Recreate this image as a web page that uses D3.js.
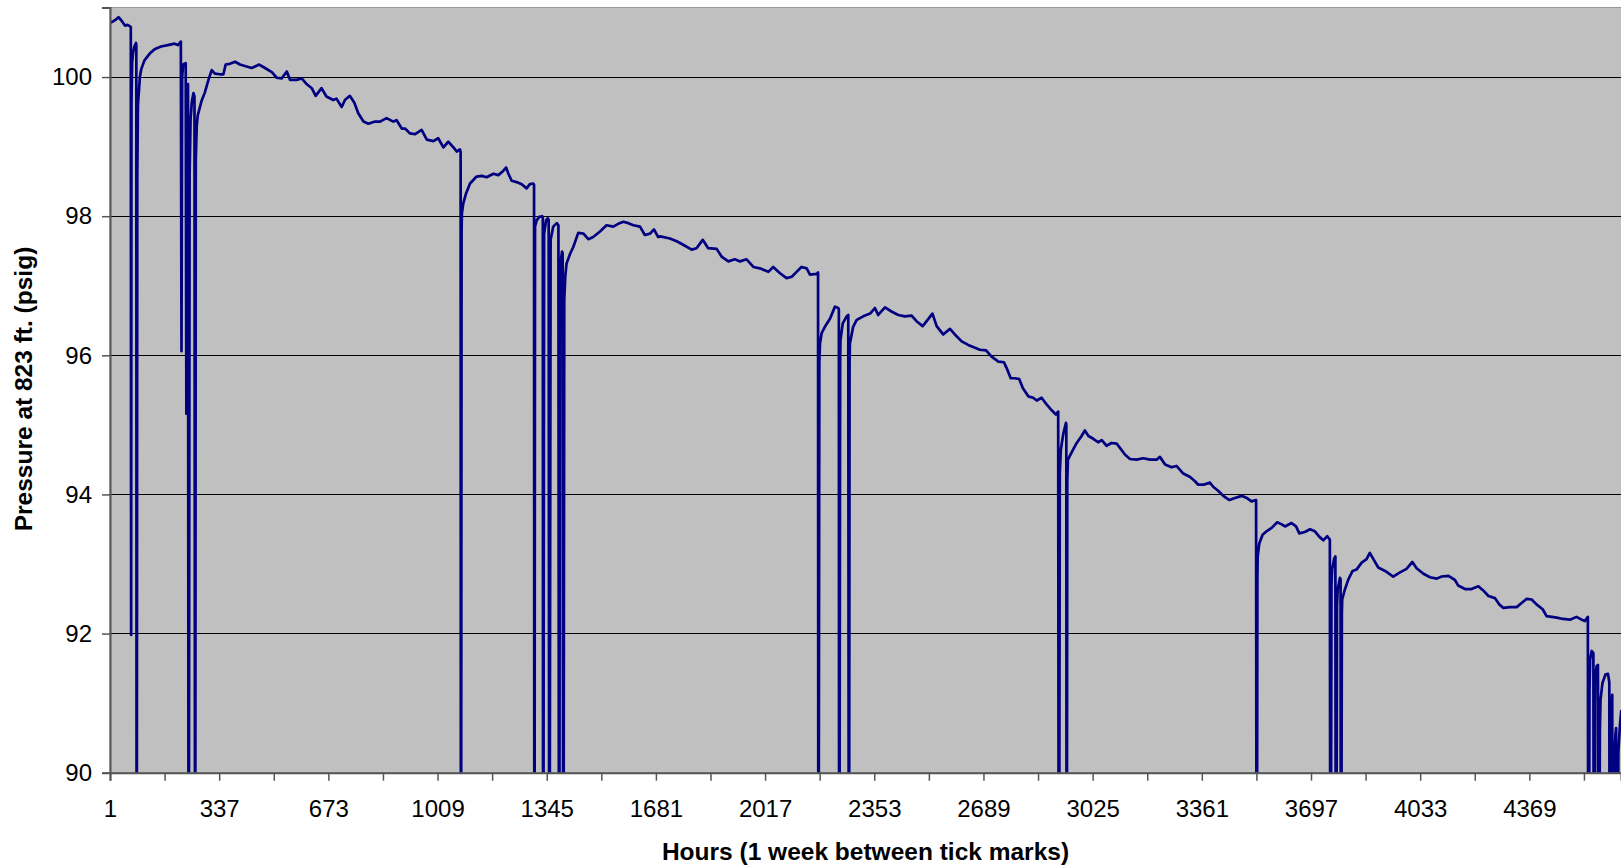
<!DOCTYPE html>
<html>
<head>
<meta charset="utf-8">
<script src="https://cdn.jsdelivr.net/npm/d3@7"></script>
<style>
  html, body { margin: 0; padding: 0; background: #ffffff; }
  svg { display: block; font-family: "Liberation Sans", Arial, sans-serif; }
</style>
</head>
<body>
<svg id="chart" width="1621" height="867"></svg>
<script>
// Hours since start of record
const hours = [
  1,10,20,27,35,47,55,65,66,67,69,72,76,81,82,83,85,87,93,97,107,122,138,158,179,200,210,219,
  221,223,226,234,236,238,241,243,246,249,253,258,261,263,265,268,271,283,293,304,314,324,339,350,
  357,370,386,401,416,437,460,478,499,514,529,545,555,575,591,606,622,634,652,667,688,698,714,724,
  739,753,765,781,796,817,832,852,873,883,899,909,924,940,960,976,996,1011,1027,1042,1058,1068,1078,
  1080,1081,1083,1084,1088,1097,1109,1129,1145,1160,1181,1196,1211,1220,1227,1237,1252,1268,1283,
  1293,1304,1306,1307,1309,1314,1322,1331,1333,1334,1337,1343,1348,1351,1353,1357,1365,1376,1381,
  1383,1386,1392,1394,1396,1399,1402,1406,1417,1427,1442,1458,1473,1488,1509,1529,1550,1565,1581,
  1596,1612,1632,1647,1663,1675,1688,1694,1724,1745,1765,1791,1806,1825,1842,1868,1883,1904,1924,
  1940,1960,1981,2001,2027,2042,2063,2083,2099,2114,2129,2145,2155,2176,2180,2181,2184,2186,2191,
  2201,2217,2232,2242,2244,2245,2248,2249,2256,2268,2273,2275,2277,2278,2288,2299,2319,2340,2355,
  2365,2386,2406,2427,2447,2468,2483,2502,2519,2532,2545,2565,2586,2601,2622,2642,2663,2678,2697,
  2714,2735,2752,2760,2773,2786,2799,2810,2827,2842,2853,2868,2884,2899,2912,2919,2921,2924,2927,
  2935,2943,2944,2945,2947,2949,2960,2976,2991,3001,3012,3027,3042,3053,3068,3083,3099,3109,3125,
  3140,3160,3181,3202,3222,3232,3248,3268,3283,3304,3325,3340,3350,3366,3386,3396,3412,3427,3446,
  3463,3484,3499,3514,3528,3530,3532,3533,3538,3548,3560,3576,3593,3607,3617,3637,3651,3661,3678,
  3694,3709,3723,3735,3747,3755,3757,3760,3762,3768,3772,3774,3777,3779,3786,3788,3789,3792,3793,
  3801,3812,3825,3837,3853,3868,3878,3889,3904,3925,3950,3971,3991,4009,4022,4043,4063,4084,4099,
  4120,4140,4150,4171,4191,4212,4227,4243,4263,4276,4289,4309,4330,4345,4361,4376,4391,4410,4422,
  4438,4453,4473,4494,4514,4530,4540,4549,4551,4554,4556,4561,4566,4568,4571,4572,4576,4580,4582,
  4586,4588,4594,4603,4611,4615,4617,4620,4622,4624,4626,4630,4634,4636,4638,4643,4648,4652
];
// Pressure at 823 ft (psig); values below 90 run off the bottom of the axis
const pressure = [
  100.78,100.80,100.83,100.86,100.82,100.74,100.75,100.72,91.98,99.6,100.2,100.35,100.44,100.49,100.45,85,98.6,99.6,100.0,100.11,100.24,100.33,100.40,100.44,100.46,100.48,100.46,100.51,
  96.06,100.0,100.18,100.2,95.16,99.6,99.9,85,98.6,99.4,99.65,99.77,99.72,85,98.8,99.3,99.45,99.66,99.78,99.96,100.1,100.05,100.04,100.04,
  100.18,100.19,100.22,100.18,100.16,100.13,100.18,100.13,100.07,99.99,99.98,100.08,99.96,99.96,99.98,99.90,99.84,99.73,99.84,99.72,99.67,99.69,99.57,99.67,
  99.73,99.63,99.48,99.36,99.33,99.36,99.36,99.41,99.36,99.38,99.26,99.26,99.19,99.18,99.24,99.10,99.08,99.12,98.99,99.07,98.99,98.93,98.96,
  98.92,85,97.8,98.04,98.18,98.33,98.47,98.57,98.58,98.56,98.61,98.59,98.65,98.70,98.61,98.51,98.49,98.46,98.40,
  98.46,98.47,98.45,85,97.85,97.94,97.99,98.0,97.98,85,97.75,97.94,97.97,97.95,85,97.66,97.85,97.90,97.87,
  85,97.27,97.49,97.47,85,96.8,97.13,97.32,97.46,97.56,97.76,97.75,97.67,97.70,97.78,97.87,97.85,97.89,97.92,
  97.90,97.87,97.85,97.73,97.75,97.81,97.70,97.71,97.68,97.64,97.59,97.52,97.54,97.66,97.54,97.53,97.42,97.35,97.38,
  97.35,97.38,97.27,97.25,97.20,97.27,97.18,97.11,97.13,97.20,97.27,97.25,97.16,97.17,97.19,85,95.9,96.17,96.32,
  96.41,96.53,96.70,96.68,96.66,85,95.9,96.22,96.46,96.56,96.58,85,95.9,96.17,96.41,96.51,96.56,96.60,96.68,
  96.58,96.69,96.63,96.58,96.56,96.57,96.49,96.42,96.52,96.60,96.42,96.30,96.38,96.30,96.20,96.15,96.11,96.08,96.07,
  95.98,95.91,95.90,95.82,95.67,95.67,95.66,95.53,95.41,95.39,95.35,95.39,95.29,95.21,95.15,95.19,85,94.3,94.64,
  94.88,95.03,95.0,85,94.2,94.50,94.60,94.74,94.84,94.92,94.84,94.80,94.75,94.78,94.70,94.74,94.73,94.67,94.57,
  94.51,94.50,94.52,94.50,94.50,94.54,94.43,94.39,94.41,94.30,94.25,94.19,94.14,94.14,94.17,94.11,94.05,93.98,93.92,
  93.95,93.98,93.95,93.90,93.92,85,92.8,93.11,93.30,93.42,93.47,93.52,93.60,93.57,93.54,93.59,93.54,93.44,93.46,
  93.50,93.47,93.39,93.34,93.40,93.35,85,92.7,92.92,93.07,93.11,85,92.4,92.63,92.80,92.78,85,92.3,92.49,
  92.63,92.78,92.90,92.92,93.02,93.07,93.16,93.07,92.95,92.90,92.82,92.88,92.93,93.03,92.94,92.86,92.81,92.79,92.82,
  92.83,92.77,92.69,92.64,92.64,92.68,92.62,92.54,92.51,92.42,92.37,92.38,92.38,92.44,92.50,92.49,92.42,92.35,92.25,
  92.24,92.23,92.21,92.20,92.24,92.20,92.18,92.24,85,91.2,91.63,91.75,91.72,85,91.0,91.39,91.53,91.55,85,
  90.6,91.05,91.29,91.41,91.42,91.3,85,90.5,90.9,91.12,85,90.2,90.55,90.64,85,90.3,90.7,90.9
];

const yTicks = [90, 92, 94, 96, 98, 100];
const xTickHours = [1,169,337,505,673,841,1009,1177,1345,1513,1681,1849,2017,2185,2353,2521,2689,2857,3025,3193,3361,3529,3697,3865,4033,4201,4369,4537];
const xLabelHours = [1,337,673,1009,1345,1681,2017,2353,2689,3025,3361,3697,4033,4369];
const xTitle = "Hours (1 week between tick marks)";
const yTitle = "Pressure at 823 ft. (psig)";

const data = hours.map((h, i) => ({h, p: pressure[i]}));

const svg = d3.select("#chart");
const L = 110, R = 1621, T = 7.5, B = 772.7;

const x = d3.scaleLinear().domain([1, 4651]).range([L, R]);
const y = d3.scaleLinear().domain([90, 101]).range([B, T]);

svg.append("defs").append("clipPath").attr("id", "clip")
  .append("rect").attr("x", L).attr("y", T).attr("width", R - L).attr("height", B - T);

// plot area
svg.append("rect").attr("x", L).attr("y", T).attr("width", R - L + 2).attr("height", B - T)
  .attr("fill", "#C0C0C0").attr("stroke", "#9a9a9a").attr("stroke-width", 1);

// gridlines
svg.append("g").selectAll("line").data(yTicks.filter(v => v > 90)).join("line")
  .attr("x1", L).attr("x2", R).attr("y1", d => y(d)).attr("y2", d => y(d))
  .attr("stroke", "#000").attr("stroke-width", 1).attr("shape-rendering", "crispEdges");

// data line
const line = d3.line().x(d => x(d.h)).y(d => y(d.p));
svg.append("path").datum(data).attr("clip-path", "url(#clip)")
  .attr("d", line).attr("fill", "none").attr("stroke", "#000080")
  .attr("stroke-width", 2.7).attr("stroke-linejoin", "round");

// y axis
const yAxis = d3.axisLeft(y).tickValues(yTicks).tickSize(8).tickPadding(10).tickFormat(d3.format("d"));
const gy = svg.append("g").attr("transform", `translate(${L},0)`).call(yAxis);
gy.select(".domain").attr("stroke", "#555").attr("stroke-width", 2);
gy.selectAll(".tick line").attr("stroke", "#555").attr("stroke-width", 1.5);
gy.selectAll(".tick text").attr("font-size", 24).attr("fill", "#000")
  .attr("font-family", "Liberation Sans, Arial, sans-serif");

// x axis
const xAxis = d3.axisBottom(x).tickValues(xTickHours).tickSize(8)
  .tickFormat(d => xLabelHours.includes(d) ? d : "");
const gx = svg.append("g").attr("transform", `translate(0,${B})`).call(xAxis);
gx.select(".domain").attr("stroke", "#555").attr("stroke-width", 2);
gx.selectAll(".tick line").attr("stroke", "#555").attr("stroke-width", 1.5);
gx.selectAll(".tick text").attr("font-size", 24).attr("fill", "#000").attr("dy", "0.71em")
  .attr("y", 27).attr("font-family", "Liberation Sans, Arial, sans-serif");

// titles
svg.append("text").attr("x", (L + R) / 2).attr("y", 860).attr("text-anchor", "middle")
  .attr("font-size", 24.5).attr("font-weight", "bold").text(xTitle);
svg.append("text").attr("transform", "translate(32,389) rotate(-90)").attr("text-anchor", "middle")
  .attr("font-size", 24.5).attr("font-weight", "bold").text(yTitle);
</script>
</body>
</html>
